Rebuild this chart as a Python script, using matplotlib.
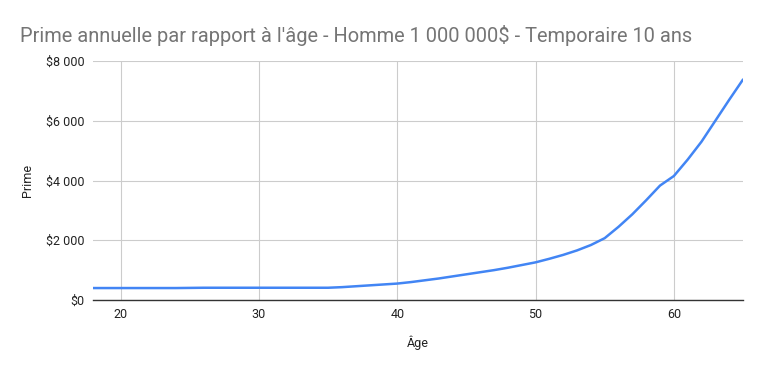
import matplotlib
matplotlib.use("Agg")
import matplotlib.pyplot as plt
from matplotlib.ticker import FuncFormatter

ages = list(range(18, 66))
primes = [400, 400, 400, 400, 400, 400, 400, 405,
          410, 410, 410, 410, 410, 410, 410, 410, 410,
          410, 430, 460, 490, 520, 550,
          600, 660, 720, 790, 860, 930, 1000, 1080, 1170, 1260,
          1380, 1510, 1660, 1840, 2070,
          2450, 2870, 3340, 3830,
          4150, 4700, 5300, 6000, 6700, 7380]

yticks = [0, 2000, 4000, 6000, 8000]
xticks = [20, 30, 40, 50, 60]
title = "Prime annuelle par rapport à l'âge - Homme 1 000 000$ - Temporaire 10 ans"

plt.rcParams['font.family'] = ['Roboto', 'DejaVu Sans']

W, H = 761, 371
fig = plt.figure(figsize=(W / 100, H / 100), dpi=100)
ax = fig.add_axes([93 / W, (H - 300) / H, 650 / W, 239 / H])

ax.plot(ages, primes, color="#4285F4", lw=1.8, solid_capstyle="round")

ax.set_xlim(18, 65)
ax.set_ylim(0, 8000)
ax.set_xticks(xticks)
ax.set_yticks(yticks)

def fmt(v, pos):
    v = int(v)
    if v == 0:
        return "$0"
    s = f"{v:,}".replace(",", " ")
    return "$" + s
ax.yaxis.set_major_formatter(FuncFormatter(fmt))

ax.grid(True, color="#cccccc", lw=0.8)
ax.set_axisbelow(True)
for s in ["top", "right", "left"]:
    ax.spines[s].set_visible(False)
ax.spines["bottom"].set_color("#333333")
ax.spines["bottom"].set_linewidth(1)
ax.tick_params(length=0, labelsize=9, colors="#222222", pad=6)

ax.set_xlabel("Âge", fontsize=9, color="#222222", labelpad=10)
ax.set_ylabel("Prime", fontsize=9, color="#222222", labelpad=9)

fig.text(20 / W, 1 - 35 / H, title, fontsize=14.4, color="#757575", va="center", ha="left")

fig.savefig("out.png", dpi=100, facecolor="white")
